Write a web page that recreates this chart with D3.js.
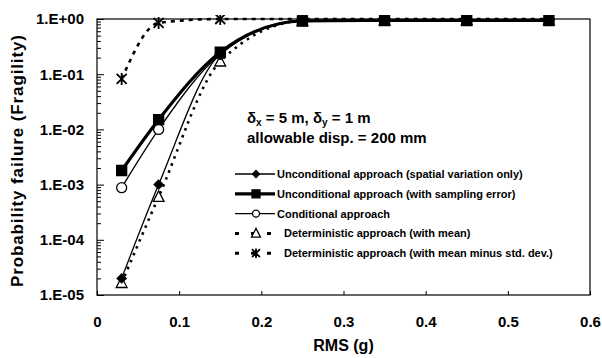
<!DOCTYPE html>
<html>
<head>
<meta charset="utf-8">
<script src="https://cdn.jsdelivr.net/npm/d3@7/dist/d3.min.js"></script>
<style>
  body { margin: 0; background: #fff; }
  svg { display: block; font-family: "Liberation Sans", Arial, sans-serif; font-weight: bold; }
</style>
</head>
<body>
<div id="chart"></div>
<script>
// RMS values (g)
var rms = [0.03, 0.075, 0.15, 0.25, 0.35, 0.45, 0.55];

// probability of failure for each approach
var spatialOnly   = [2.0e-5, 1.0e-3, 0.23, 0.94, 0.95, 0.95, 0.95];
var samplingError = [1.8e-3, 1.5e-2, 0.25, 0.92, 0.94, 0.94, 0.94];
var conditional   = [8.8e-4, 1.0e-2, 0.23, 0.93, 0.95, 0.95, 0.95];
var detMean       = [1.65e-5, 6.0e-4, 0.17, 0.92, 0.95, 0.95, 0.95];
var detMeanMinus  = [0.082, 0.85, 1.0, 1.0, 1.0, 1.0, 1.0];

var seriesNames = [
  "Unconditional approach (spatial variation only)",
  "Unconditional approach (with sampling error)",
  "Conditional approach",
  "Deterministic approach (with mean)",
  "Deterministic approach (with mean minus std. dev.)"
];

var xTicks = [0, 0.1, 0.2, 0.3, 0.4, 0.5, 0.6];
var yTicks = [1e-5, 1e-4, 1e-3, 1e-2, 1e-1, 1];

(function() {
  var width = 602, height = 358,
      left = 97, right = 590, top = 19, bottom = 295;

  var svg = d3.select("#chart").append("svg")
      .attr("width", width)
      .attr("height", height);

  var x = d3.scaleLinear().domain([0, 0.6]).range([left, right]);
  var y = d3.scaleLog().domain([1e-5, 1]).range([bottom, top]);

  var fmt = function(d) {
    var e = Math.round(Math.log10(d));
    return "1.E" + (e < 0 ? "-" : "+") + String(Math.abs(e)).padStart(2, "0");
  };

  // minor log ticks
  var minor = [];
  yTicks.slice(0, -1).forEach(function(d) {
    for (var k = 2; k <= 9; k++) minor.push(d * k);
  });

  svg.append("g")
      .attr("transform", "translate(" + left + ",0)")
      .call(d3.axisLeft(y).tickValues(minor).tickSize(-4).tickFormat(""))
      .call(function(g) { g.select(".domain").remove(); });

  var yAxis = svg.append("g")
      .attr("transform", "translate(" + left + ",0)")
      .call(d3.axisLeft(y).tickValues(yTicks).tickSize(-7).tickPadding(13).tickFormat(fmt));
  yAxis.select(".domain").remove();
  yAxis.selectAll("text")
      .style("font-size", "15px")
      .style("font-weight", "bold")
      .attr("fill", "#000");

  var xAxis = svg.append("g")
      .attr("transform", "translate(0," + bottom + ")")
      .call(d3.axisBottom(x).tickValues(xTicks).tickSize(-4).tickPadding(21).tickFormat(d3.format(".1f")));
  xAxis.select(".domain").remove();
  xAxis.selectAll("text")
      .style("font-size", "15px")
      .style("font-weight", "bold")
      .attr("fill", "#000")
      .text(function(d) { return d === 0 ? "0" : d3.format(".1f")(d); });
  xAxis.selectAll("line").attr("stroke", "#000");

  // plot frame
  svg.append("rect")
      .attr("x", left).attr("y", top)
      .attr("width", right - left).attr("height", bottom - top)
      .attr("fill", "none")
      .attr("stroke", "#000")
      .attr("stroke-width", 1.2);

  // axis titles
  svg.append("text")
      .attr("x", (left + right) / 2)
      .attr("y", 351)
      .attr("text-anchor", "middle")
      .style("font-size", "16px")
      .text("RMS (g)");

  svg.append("text")
      .attr("transform", "translate(23," + ((top + bottom) / 2 + 4) + ") rotate(-90)")
      .attr("text-anchor", "middle")
      .style("font-size", "17px")
      .attr("textLength", 252)
      .attr("lengthAdjust", "spacing")
      .text("Probability failure (Fragility)");

  // annotation
  var note = svg.append("text")
      .attr("x", 247).attr("y", 123)
      .style("font-size", "15px");
  note.append("tspan").text("\u03b4");
  note.append("tspan").attr("dy", 3).style("font-size", "10px").text("x");
  note.append("tspan").attr("dy", -3).text(" = 5 m, \u03b4");
  note.append("tspan").attr("dy", 3).style("font-size", "10px").text("y");
  note.append("tspan").attr("dy", -3).text(" = 1 m");

  svg.append("text")
      .attr("x", 247).attr("y", 143)
      .style("font-size", "15px")
      .text("allowable disp. = 200 mm");

  // marker shapes
  var markers = {
    diamond: function(s) { return "M0," + (-s) + "L" + s + ",0L0," + s + "L" + (-s) + ",0Z"; },
    square: function(s) { return "M" + (-s) + "," + (-s) + "H" + s + "V" + s + "H" + (-s) + "Z"; },
    circle: function(s) { return "M" + s + ",0A" + s + "," + s + " 0 1,1 " + (-s) + ",0A" + s + "," + s + " 0 1,1 " + s + ",0Z"; },
    triangle: function(s) { return "M0," + (-s) + "L" + (s * 0.9) + "," + (s * 0.75) + "L" + (-s * 0.9) + "," + (s * 0.75) + "Z"; },
    star: function(s) { return "M" + (-s) + "," + (-s) + "L" + s + "," + s + "M" + (-s) + "," + s + "L" + s + "," + (-s) + "M0," + (-s * 1.2) + "L0," + (s * 1.2); }
  };

  var series = [
    { values: spatialOnly,   width: 1.3, dash: null,    marker: "diamond",  size: 4.5, lsize: 3.5, fill: "#000" },
    { values: samplingError, width: 3.2, dash: null,    marker: "square",   size: 5,   lsize: 4,   fill: "#000" },
    { values: conditional,   width: 1.3, dash: null,    marker: "circle",   size: 5,   lsize: 3.5, fill: "#fff" },
    { values: detMean,       width: 2.6, dash: "2.5,5", marker: "triangle", size: 6,   lsize: 5,   fill: "#fff" },
    { values: detMeanMinus,  width: 2.6, dash: "4,5",   marker: "star",     size: 5,   lsize: 4,   fill: "none" }
  ];

  svg.append("clipPath").attr("id", "clip")
    .append("rect")
      .attr("x", left).attr("y", top - 4)
      .attr("width", right - left).attr("height", bottom - top + 8);

  var line = d3.line()
      .x(function(d) { return x(d[0]); })
      .y(function(d) { return y(d[1]); })
      .curve(d3.curveMonotoneX);

  var plot = svg.append("g").attr("clip-path", "url(#clip)");

  // draw in reverse so squares sit on top
  series.slice().reverse().forEach(function(s) {
    var pts = rms.map(function(r, i) { return [r, s.values[i]]; });
    plot.append("path")
        .datum(pts)
        .attr("d", line)
        .attr("fill", "none")
        .attr("stroke", "#000")
        .attr("stroke-width", s.width)
        .attr("stroke-dasharray", s.dash);
    plot.selectAll(null)
        .data(pts)
        .enter().append("path")
        .attr("transform", function(d) { return "translate(" + x(d[0]) + "," + y(d[1]) + ")"; })
        .attr("d", markers[s.marker](s.size))
        .attr("fill", s.fill)
        .attr("stroke", "#000")
        .attr("stroke-width", s.marker === "star" ? 1.8 : 1.3);
  });

  // legend
  var legend = svg.append("g");
  series.forEach(function(s, i) {
    var ly = 174 + i * 19.8;
    legend.append("line")
        .attr("x1", 235).attr("x2", 275)
        .attr("y1", ly).attr("y2", ly)
        .attr("stroke", "#000")
        .attr("stroke-width", s.dash ? 3 : s.width)
        .attr("stroke-dasharray", s.dash ? "4,12" : null);
    legend.append("path")
        .attr("transform", "translate(256," + ly + ")")
        .attr("d", markers[s.marker](s.lsize))
        .attr("fill", s.fill)
        .attr("stroke", "#000")
        .attr("stroke-width", s.marker === "star" ? 1.8 : 1.3);
    legend.append("text")
        .attr("x", s.dash ? 284 : 277)
        .attr("y", ly + 4)
        .style("font-size", "11px")
        .text(seriesNames[i]);
  });
})();
</script>
</body>
</html>
